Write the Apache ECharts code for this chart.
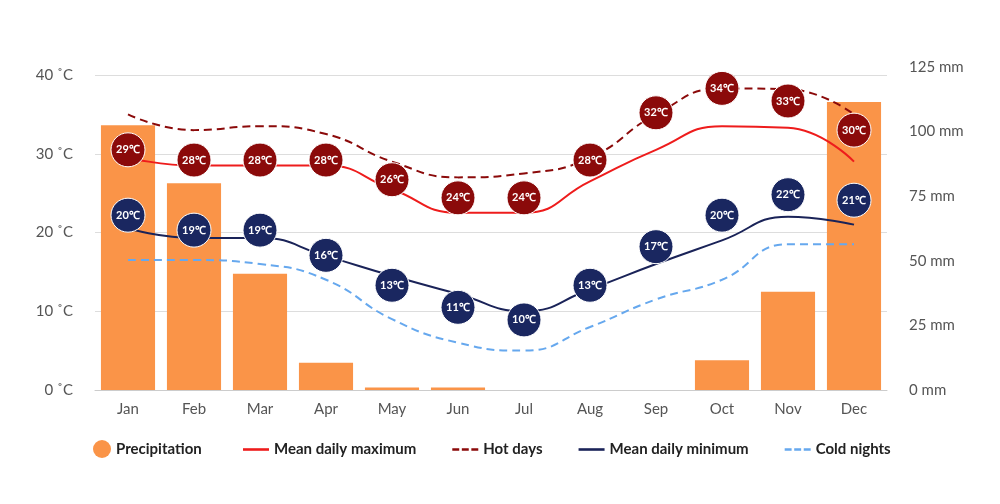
<!DOCTYPE html><html><head><meta charset="utf-8"><script src="https://cdn.jsdelivr.net/npm/echarts@6/dist/echarts.min.js"></script>
<style>body{margin:0}#c{width:1000px;height:504px}</style></head><body><div id="c"></div><script>
const months=['Jan','Feb','Mar','Apr','May','Jun','Jul','Aug','Sep','Oct','Nov','Dec'];
const precip=[102.5,80,45,10.5,1,1,0,0,0,11.5,38,111.5];
const meanMax=[29.5,28.5,28.5,28.5,25.5,22.5,22.5,26.5,30.5,33.5,33.3,29];
const hotDays=[35,33,33.5,32.5,29,27,27.5,29.5,35,38.3,38.2,35];
const meanMin=[20.5,19.3,19.3,17,14.5,12.2,10,12.8,16,19,22,21];
const coldNights=[16.5,16.5,16,14,9,6,5,8,11.5,14,18.5,18.5];
const maxLabels=[29,28,28,28,26,24,24,28,32,34,33,30];
const maxPos=[30.5,29.2,29.2,29.2,26.7,24.4,24.4,29.2,35.2,38.3,36.7,33];
const minLabels=[20,19,19,16,13,11,10,13,17,20,22,21];
const minPos=[22.2,20.3,20.3,17.1,13.3,10.5,8.9,13.3,18.2,22.2,24.8,24.1];
const F='Lato';
function dots(pos,labels,color){return {type:'scatter',yAxisIndex:0,symbolSize:34,itemStyle:{color:color,opacity:1,borderColor:'#fff',borderWidth:1},
 data:pos.map((v,i)=>({value:v,label:{formatter:labels[i]+'℃'}})),label:{show:true,position:'inside',color:'#fff',fontSize:11,fontFamily:F,fontWeight:'bold'},z:10};}
const solid='path://M0 0H30V3H0Z', dash='path://M0 0H8V3H0ZM11 0H19V3H11ZM22 0H30V3H22Z';
const axLab={fontFamily:F,fontSize:15,color:'#555',margin:22};
const legText={fontFamily:F,fontWeight:'bold',fontSize:15,color:'#222'};
const ch=echarts.init(document.getElementById('c'));
ch.setOption({animation:false,
grid:[{left:95,right:113,top:75,bottom:114},{left:95,right:113,top:67,bottom:114}],
legend:[{left:88,bottom:41,itemWidth:18,itemHeight:18,textStyle:legText,data:[{name:'Precipitation',icon:'circle'}]},
 {left:238,bottom:42,itemGap:36,itemWidth:26,itemHeight:3,textStyle:legText,
 data:[{name:'Mean daily maximum',icon:solid},{name:'Hot days',icon:dash},{name:'Mean daily minimum',icon:solid},{name:'Cold nights',icon:dash}]}],
xAxis:[{type:'category',data:months,axisTick:{show:false},axisLine:{lineStyle:{color:'#ccc'}},axisLabel:{fontFamily:F,fontSize:15,color:'#555',margin:12}},
 {type:'category',gridIndex:1,data:months,show:false}],
yAxis:[{type:'value',min:0,max:40,interval:10,axisLabel:Object.assign({formatter:'{value} ˚C'},axLab),splitLine:{lineStyle:{color:'#ddd'}}},
 {type:'value',gridIndex:1,position:'right',min:0,max:125,interval:25,axisLabel:Object.assign({formatter:'{value} mm'},axLab),splitLine:{show:false}}],
series:[
{name:'Precipitation',type:'bar',xAxisIndex:1,yAxisIndex:1,data:precip,barWidth:'82%',itemStyle:{color:'#fa9448'}},
{name:'Mean daily maximum',type:'line',smooth:true,symbol:'none',data:meanMax,lineStyle:{color:'#ee1c1c',width:2},itemStyle:{color:'#ee1c1c'}},
{name:'Hot days',type:'line',smooth:true,symbol:'none',data:hotDays,lineStyle:{color:'#8b0a0a',width:2,type:[8,5]},itemStyle:{color:'#8b0a0a'}},
{name:'Mean daily minimum',type:'line',smooth:true,symbol:'none',data:meanMin,lineStyle:{color:'#1a2358',width:2},itemStyle:{color:'#1a2358'}},
{name:'Cold nights',type:'line',smooth:true,symbol:'none',data:coldNights,lineStyle:{color:'#66a8ee',width:2,type:[8,5]},itemStyle:{color:'#66a8ee'}},
dots(maxPos,maxLabels,'#8b0a0a'),dots(minPos,minLabels,'#1a2760')
]});
</script></body></html>
